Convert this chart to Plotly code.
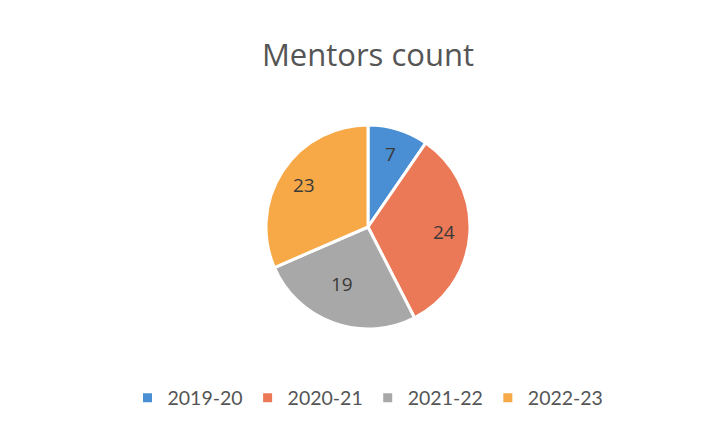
import math
import plotly.graph_objects as go

years = ["2019-20", "2020-21", "2021-22", "2022-23"]
mentors = [7, 24, 19, 23]
colors = ["#4a8fd4", "#eb7957", "#a8a8a8", "#f6a946"]

W, H = 710, 428
OFF = 8  # browser body margin
cx, cy, r = 368 - OFF, 227 - OFF, 102

dom_x = [(cx - r) / W, (cx + r) / W]
dom_y = [1 - (cy + r) / H, 1 - (cy - r) / H]

fig = go.Figure(go.Pie(
    labels=years, values=mentors, sort=False, direction="clockwise", rotation=0,
    marker=dict(colors=colors, line=dict(color="white", width=3)),
    textinfo="none",
    domain=dict(x=dom_x, y=dom_y),
    hoverinfo="label+value",
))

# data labels placed at ~75% radius along each slice's mid angle
total = sum(mentors)
cum = 0
for v in mentors:
    mid = (cum + v / 2) / total * 2 * math.pi
    cum += v
    rf = 0.75 * r
    px = cx + rf * math.sin(mid)
    py = cy - rf * math.cos(mid)
    fig.add_annotation(x=px / W, y=1 - py / H, xref="paper", yref="paper",
                       text=str(v), showarrow=False,
                       font=dict(family="'Open Sans', Lato, sans-serif", size=19, color="#3a3a3a"))

fig.update_layout(
    width=W, height=H,
    margin=dict(l=0, r=0, t=0, b=0),
    paper_bgcolor="white", plot_bgcolor="white",
    title=dict(text="Mentors count", x=(368 - OFF) / W, xanchor="center", y=1 - (55 - OFF) / H,
               yanchor="middle",
               font=dict(family="'Open Sans', Lato, sans-serif", size=31, color="#555555")),
    legend=dict(orientation="h", x=(368 - OFF) / W, xanchor="center", y=1 - (398 - OFF) / H,
                yanchor="middle",
                font=dict(family="Lato, 'Open Sans', sans-serif", size=19.5, color="#555555"),
                itemwidth=30, traceorder="normal"),
    showlegend=True,
)

fig.write_html("out.html")
